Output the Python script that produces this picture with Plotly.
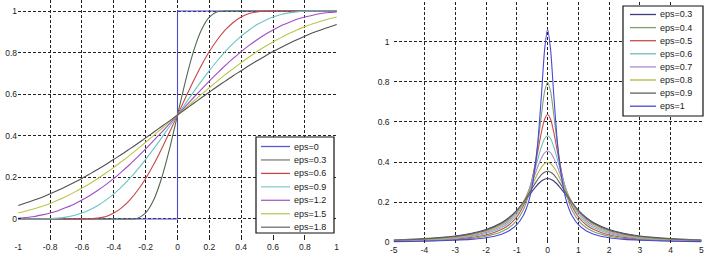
import plotly.graph_objects as go

# ---------------- left panel data ----------------
left_x = [-1.0, -0.95, -0.9, -0.85, -0.8, -0.75, -0.7, -0.65, -0.6, -0.55, -0.5,
          -0.45, -0.4, -0.35, -0.3, -0.25, -0.2, -0.15, -0.1, -0.05, 0.0,
          0.05, 0.1, 0.15, 0.2, 0.25, 0.3, 0.35, 0.4, 0.45, 0.5,
          0.55, 0.6, 0.65, 0.7, 0.75, 0.8, 0.85, 0.9, 0.95, 1.0]

step_x = [-1.0, 0.0, 0.0, 1.0]
step_y = [0.0, 0.0, 1.0, 1.0]

h_03 = [0, 0, 0, 0, 0, 0, 0, 0, 0, 0, 0, 0, 0, 0, 0, 0.004, 0.029, 0.091, 0.196, 0.337,
        0.5, 0.663, 0.805, 0.909, 0.971, 0.996, 1, 1, 1, 1, 1, 1, 1, 1, 1, 1, 1, 1, 1, 1, 1]
h_06 = [0, 0, 0, 0, 0, 0, 0, 0, 0, 0.001, 0.004, 0.012, 0.029, 0.055, 0.091, 0.138, 0.195, 0.262, 0.337, 0.417,
        0.5, 0.583, 0.663, 0.738, 0.805, 0.862, 0.909, 0.945, 0.971, 0.988, 0.996, 0.999, 1, 1, 1, 1, 1, 1, 1, 1, 1]
h_09 = [0, 0, 0, 0, 0.001, 0.004, 0.009, 0.017, 0.029, 0.045, 0.065, 0.091, 0.121, 0.156, 0.195, 0.239, 0.287, 0.337, 0.390, 0.445,
        0.5, 0.555, 0.610, 0.663, 0.713, 0.761, 0.805, 0.844, 0.879, 0.909, 0.935, 0.955, 0.971, 0.983, 0.991, 0.996, 0.999, 1, 1, 1, 1]
h_12 = [0.004, 0.007, 0.012, 0.020, 0.029, 0.040, 0.055, 0.071, 0.091, 0.113, 0.138, 0.165, 0.195, 0.228, 0.262, 0.299, 0.337, 0.377, 0.417, 0.458,
        0.5, 0.542, 0.583, 0.623, 0.663, 0.701, 0.738, 0.772, 0.805, 0.835, 0.862, 0.887, 0.909, 0.929, 0.945, 0.960, 0.971, 0.980, 0.988, 0.993, 0.996]
h_15 = [0.029, 0.038, 0.049, 0.061, 0.075, 0.091, 0.108, 0.128, 0.149, 0.171, 0.195, 0.221, 0.248, 0.277, 0.306, 0.337, 0.369, 0.401, 0.434, 0.467,
        0.5, 0.533, 0.566, 0.599, 0.631, 0.663, 0.694, 0.723, 0.752, 0.779, 0.805, 0.829, 0.851, 0.872, 0.892, 0.909, 0.925, 0.939, 0.951, 0.962, 0.971]
h_18 = [0.065, 0.078, 0.091, 0.105, 0.121, 0.138, 0.156, 0.175, 0.195, 0.217, 0.239, 0.262, 0.287, 0.311, 0.337, 0.363, 0.390, 0.417, 0.445, 0.472,
        0.5, 0.528, 0.555, 0.583, 0.610, 0.637, 0.663, 0.689, 0.713, 0.738, 0.761, 0.783, 0.805, 0.825, 0.844, 0.862, 0.879, 0.895, 0.909, 0.922, 0.935]

left_names = ["eps=0", "eps=0.3", "eps=0.6", "eps=0.9", "eps=1.2", "eps=1.5", "eps=1.8"]
left_colors = ["#4b4bc8", "#4f6a4f", "#c84646", "#6cc4c4", "#a24cc4", "#bcc44a", "#505050"]
left_legend_colors = ["#5a5ad0", "#808080", "#c84646", "#8ccccc", "#a860c8", "#c0c860", "#707070"]
left_series = [h_03, h_06, h_09, h_12, h_15, h_18]

# ---------------- right panel data ----------------
right_x = [-5, -4, -3, -2.5, -2, -1.5, -1.25, -1, -0.8, -0.7, -0.6, -0.5, -0.4, -0.3, -0.2, -0.1,
           0, 0.1, 0.2, 0.3, 0.4, 0.5, 0.6, 0.7, 0.8, 1, 1.25, 1.5, 2, 2.5, 3, 4, 5]

d_navy = [0.012, 0.019, 0.032, 0.044, 0.064, 0.098, 0.124, 0.159, 0.194, 0.214, 0.234, 0.255, 0.274, 0.292, 0.306, 0.315,
          0.318, 0.315, 0.306, 0.292, 0.274, 0.255, 0.234, 0.214, 0.194, 0.159, 0.124, 0.098, 0.064, 0.044, 0.032, 0.019, 0.012]
d_green = [0.005, 0.008, 0.014, 0.020, 0.031, 0.053, 0.074, 0.110, 0.159, 0.196, 0.245, 0.311, 0.398, 0.509, 0.637, 0.749,
           0.796, 0.749, 0.637, 0.509, 0.398, 0.311, 0.245, 0.196, 0.159, 0.110, 0.074, 0.053, 0.031, 0.020, 0.014, 0.008, 0.005]
d_red = [0.006, 0.010, 0.017, 0.025, 0.037, 0.064, 0.088, 0.127, 0.179, 0.215, 0.261, 0.318, 0.388, 0.468, 0.549, 0.612,
         0.637, 0.612, 0.549, 0.468, 0.388, 0.318, 0.261, 0.215, 0.179, 0.127, 0.088, 0.064, 0.037, 0.025, 0.017, 0.010, 0.006]
d_cyan = [0.008, 0.012, 0.020, 0.029, 0.044, 0.073, 0.099, 0.140, 0.191, 0.225, 0.265, 0.313, 0.367, 0.424, 0.477, 0.516,
          0.531, 0.516, 0.477, 0.424, 0.367, 0.313, 0.265, 0.225, 0.191, 0.140, 0.099, 0.073, 0.044, 0.029, 0.020, 0.012, 0.008]
d_purple = [0.009, 0.014, 0.023, 0.033, 0.050, 0.081, 0.109, 0.150, 0.197, 0.227, 0.262, 0.301, 0.343, 0.384, 0.420, 0.446,
            0.455, 0.446, 0.420, 0.384, 0.343, 0.301, 0.262, 0.227, 0.197, 0.150, 0.109, 0.081, 0.050, 0.033, 0.023, 0.014, 0.009]
d_yellow = [0.010, 0.015, 0.026, 0.037, 0.055, 0.088, 0.116, 0.155, 0.199, 0.225, 0.255, 0.286, 0.318, 0.349, 0.374, 0.392,
            0.398, 0.392, 0.374, 0.349, 0.318, 0.286, 0.255, 0.225, 0.199, 0.155, 0.116, 0.088, 0.055, 0.037, 0.026, 0.015, 0.010]
d_gray = [0.011, 0.017, 0.029, 0.041, 0.060, 0.094, 0.121, 0.158, 0.198, 0.220, 0.245, 0.270, 0.295, 0.318, 0.337, 0.349,
          0.354, 0.349, 0.337, 0.318, 0.295, 0.270, 0.245, 0.220, 0.198, 0.158, 0.121, 0.094, 0.060, 0.041, 0.029, 0.017, 0.011]
d_blue = [0.004, 0.006, 0.011, 0.015, 0.023, 0.041, 0.058, 0.088, 0.131, 0.165, 0.212, 0.281, 0.382, 0.531, 0.735, 0.955,
          1.061, 0.955, 0.735, 0.531, 0.382, 0.281, 0.212, 0.165, 0.131, 0.088, 0.058, 0.041, 0.023, 0.015, 0.011, 0.006, 0.004]

right_names = ["eps=0.3", "eps=0.4", "eps=0.5", "eps=0.6", "eps=0.7", "eps=0.8", "eps=0.9", "eps=1"]
right_colors = ["#3c3c80", "#7ea06e", "#cc4c4c", "#6cc0bc", "#b08ad0", "#b4b43c", "#606060", "#4848d8"]
right_series = [d_navy, d_green, d_red, d_cyan, d_purple, d_yellow, d_gray, d_blue]

left_xticks = [-1, -0.8, -0.6, -0.4, -0.2, 0, 0.2, 0.4, 0.6, 0.8, 1]
left_yticks = [-0.1, 0, 0.2, 0.4, 0.6, 0.8, 1]
left_ylabels = ["", "0", "0.2", "0.4", "0.6", "0.8", "1"]
right_xticks = [-5, -4, -3, -2, -1, 0, 1, 2, 3, 4, 5]
right_yticks = [0, 0.2, 0.4, 0.6, 0.8, 1]

fig = go.Figure()

fig.add_trace(go.Scatter(x=step_x, y=step_y, mode="lines", name=left_names[0],
                         line=dict(color=left_colors[0], width=1.1), xaxis="x", yaxis="y"))
for name, col, ys in zip(left_names[1:], left_colors[1:], left_series):
    fig.add_trace(go.Scatter(x=left_x, y=ys, mode="lines", name=name,
                             line=dict(color=col, width=1.1, shape="spline", smoothing=0.6),
                             xaxis="x", yaxis="y"))

for name, col, ys in zip(right_names, right_colors, right_series):
    fig.add_trace(go.Scatter(x=right_x, y=ys, mode="lines", name=name,
                             line=dict(color=col, width=1.1, shape="spline", smoothing=0.6),
                             xaxis="x2", yaxis="y2"))

W, H = 707, 258
tick_font = dict(family="Liberation Sans, Arial, sans-serif", size=8.5, color="#1a1a1a")
leg_font = dict(family="Liberation Sans, Arial, sans-serif", size=9, color="#1a1a1a")
grid = dict(showgrid=True, gridcolor="#222", gridwidth=1, griddash="3px,2px",
            zeroline=False, showline=False, ticks="inside", ticklen=3,
            tickcolor="#222", tickfont=tick_font, fixedrange=True, automargin=False)


def px_x(p):
    return p / W


def px_y(p):
    return 1 - p / H


shapes = []
annotations = []


def add_legend(box, names, colors, first_y, spacing, line_x0, line_x1, text_x):
    x0, y0, x1, y1 = box
    shapes.append(dict(type="rect", xref="paper", yref="paper", layer="above",
                       x0=px_x(x0), x1=px_x(x1), y0=px_y(y1), y1=px_y(y0),
                       line=dict(color="#111", width=1.2), fillcolor="white"))
    for i, (n, c) in enumerate(zip(names, colors)):
        yy = first_y + i * spacing
        shapes.append(dict(type="line", xref="paper", yref="paper", layer="above",
                           x0=px_x(line_x0), x1=px_x(line_x1), y0=px_y(yy), y1=px_y(yy),
                           line=dict(color=c, width=1.3)))
        annotations.append(dict(text=n, xref="paper", yref="paper", x=px_x(text_x), y=px_y(yy),
                                xanchor="left", yanchor="middle", showarrow=False,
                                font=leg_font))


add_legend((256, 137, 334, 233), left_names, left_legend_colors, 146.5, 13.45, 261, 290, 292)
add_legend((623, 6, 703, 116), right_names, right_colors, 14.5, 13.1, 630, 656, 658)

fig.update_layout(
    width=W, height=H,
    margin=dict(l=0, r=0, t=0, b=0, autoexpand=False),
    paper_bgcolor="white", plot_bgcolor="white",
    font=tick_font,
    showlegend=False,
    xaxis=dict(domain=[18 / W, 337 / W], range=[-1.002, 1.002], tickvals=left_xticks,
               ticktext=[f"{v:g}" for v in left_xticks], anchor="y", **grid),
    yaxis=dict(domain=[1 - 240 / H, 1.0], range=[-0.101, 1.053], tickvals=left_yticks,
               ticktext=left_ylabels, anchor="x", **grid),
    xaxis2=dict(domain=[393.5 / W, 701.7 / W], range=[-5.01, 5.01], tickvals=right_xticks,
                ticktext=[f"{v:g}" for v in right_xticks], anchor="y2", **grid),
    yaxis2=dict(domain=[1 - 243 / H, 1 - 2 / H], range=[-0.003, 1.197], tickvals=right_yticks,
                ticktext=[f"{v:g}" for v in right_yticks], anchor="x2",
                ticklabelstandoff=3, **grid),
    shapes=shapes,
    annotations=annotations,
)

fig.write_html(
    "out.html",
    config={"displayModeBar": False, "staticPlot": True},
    post_script="document.body.style.margin='0px';document.body.style.overflow='hidden';",
)
